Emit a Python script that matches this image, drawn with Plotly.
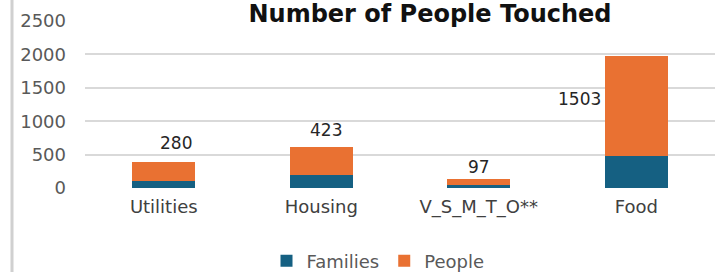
import plotly.graph_objects as go

categories = ["Utilities", "Housing", "V_S_M_T_O**", "Food"]
families = [110, 190, 40, 475]
people = [280, 423, 97, 1503]
y_ticks = [0, 500, 1000, 1500, 2000, 2500]

FAM_COLOR = "#156082"
PEO_COLOR = "#E97132"
FONT = "DejaVu Sans"

fig = go.Figure()
fig.add_trace(go.Bar(x=categories, y=families, name="Families",
                     marker=dict(color=FAM_COLOR, line=dict(width=0))))
fig.add_trace(go.Bar(x=categories, y=people, name="People",
                     marker=dict(color=PEO_COLOR, line=dict(width=0))))

# data label offsets (pixels) as placed in the original
label_shift = [(12, 19, "center"), (5, 17, "center"), (0, 12, "center"), (-33, -43, "right")]
for cat, f, p, (dx, dy, anc) in zip(categories, families, people, label_shift):
    fig.add_annotation(x=cat, y=f + p, text=str(p), showarrow=False,
                       xshift=dx, yshift=dy, xanchor=anc, yanchor="middle",
                       font=dict(family=FONT, size=17, color="#262626"))

fig.update_layout(
    barmode="stack",
    bargap=0.6,
    width=723, height=272,
    margin=dict(l=85, r=8, t=21, b=84, autoexpand=False),
    paper_bgcolor="white", plot_bgcolor="white",
    title=dict(text="<b>Number of People Touched</b>", x=430 / 723, xanchor="center",
               y=1 - 5 / 272, yanchor="top", yref="container",
               font=dict(family=FONT, size=24, color="#111111")),
    showlegend=True,
    legend=dict(orientation="h", x=378 / 723, xanchor="center", xref="container",
                y=1 - 261 / 272, yanchor="middle", yref="container",
                traceorder="normal",
                font=dict(family=FONT, size=18, color="#595959"),
                bgcolor="rgba(0,0,0,0)"),
    font=dict(family=FONT),
)
fig.update_yaxes(range=[0, 2500], tickvals=y_ticks, showgrid=True, gridcolor="#d9d9d9",
                 gridwidth=2, zeroline=False, showline=False, automargin=False,
                 tickfont=dict(family=FONT, size=18, color="#595959"),
                 ticklabelstandoff=18)
fig.update_xaxes(showline=False, showgrid=False, automargin=False,
                 tickfont=dict(family=FONT, size=18, color="#404040"),
                 ticklabelstandoff=6)
fig.add_shape(type="line", xref="paper", yref="paper",
              x0=(12 - 85) / 630, x1=(12 - 85) / 630, y0=-2, y1=2,
              line=dict(color="#d0d0d0", width=3))

fig.write_html("out.html", config={"displayModeBar": False},
               post_script="document.body.style.margin='0';document.body.style.overflow='hidden';")
